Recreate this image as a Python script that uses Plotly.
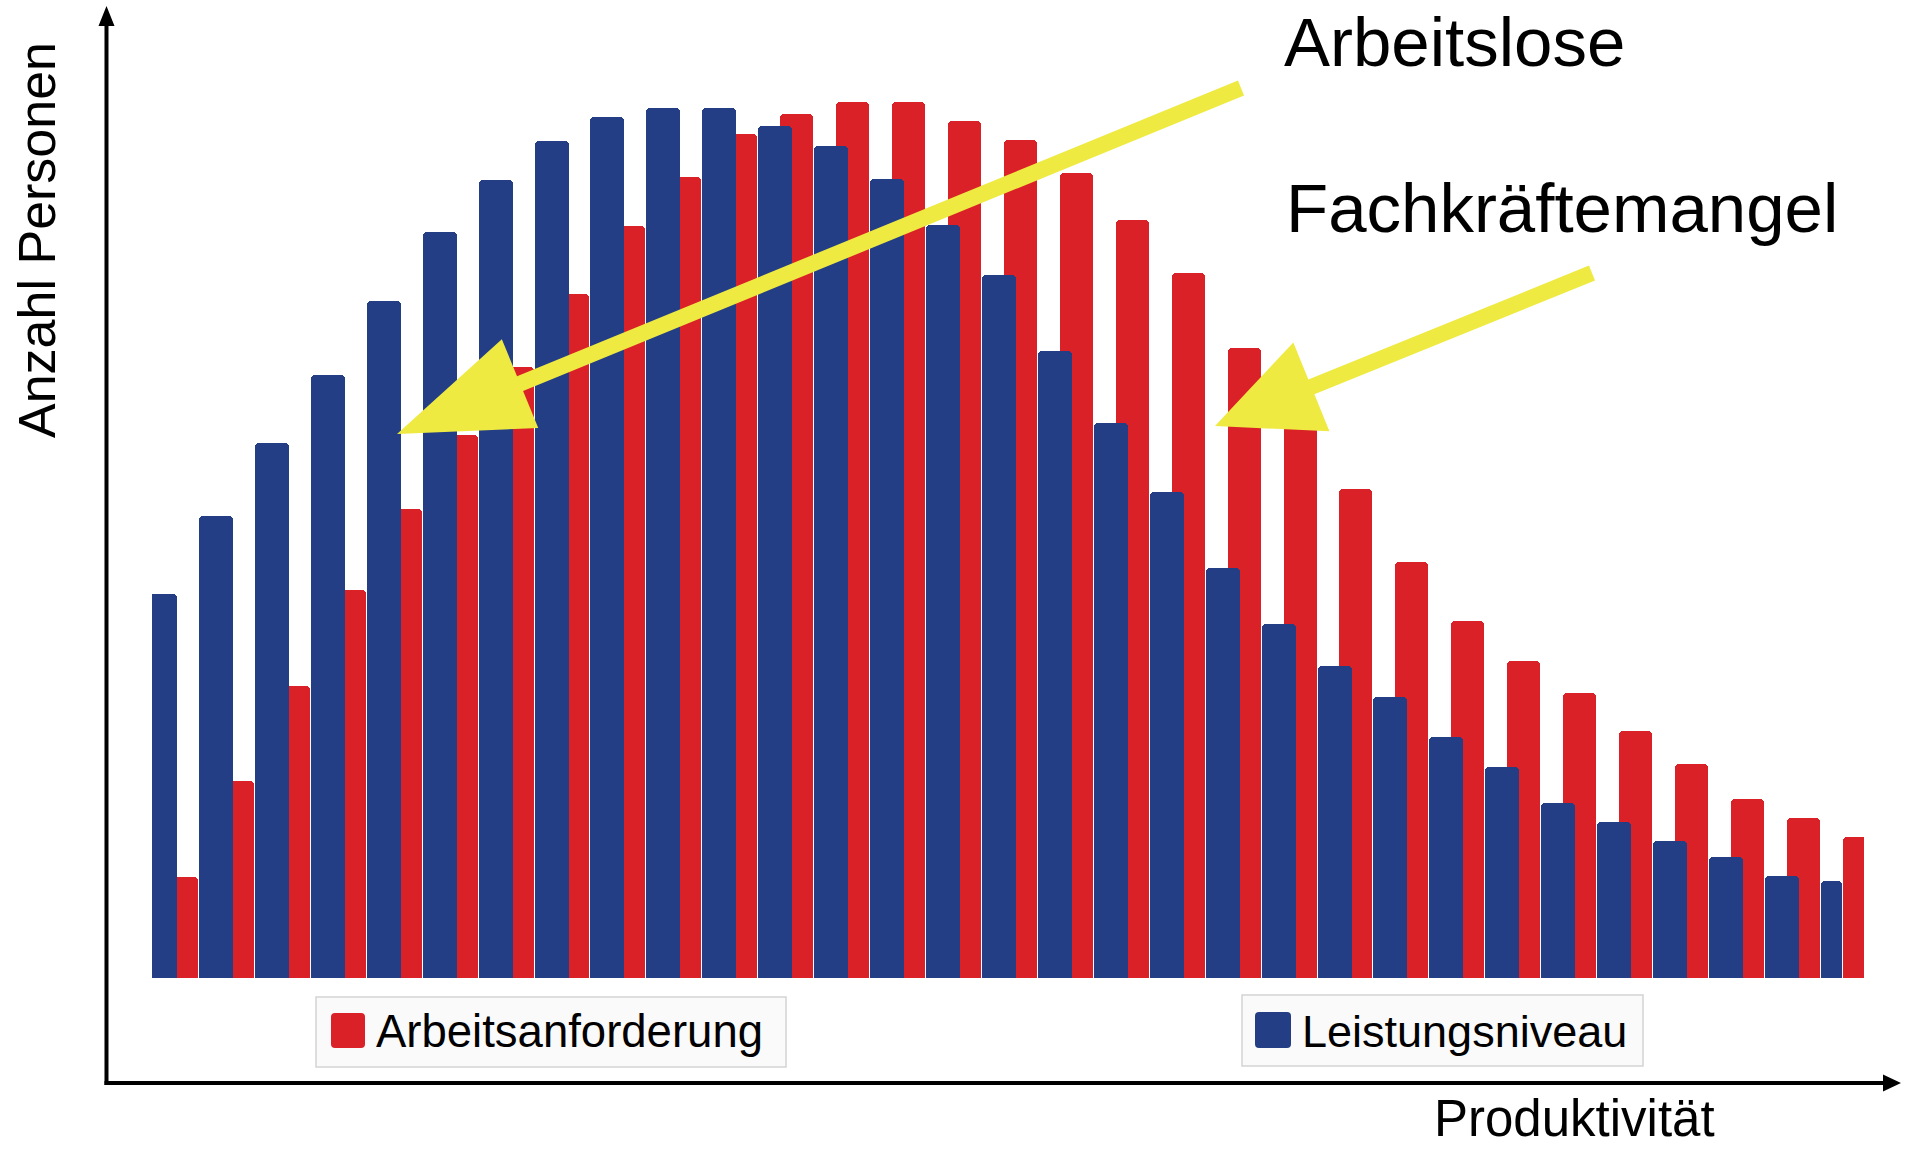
import plotly.graph_objects as go

# Klassen entlang der Produktivitaetsachse
klassen = list(range(1, 32))
# Hoehen der Balken (relative Anzahl Personen, 0..100)
arbeitsanforderung = [10.9, 21.2, 31.5, 41.8, 50.5, 58.5, 65.8, 73.7, 81.0, 86.3,
                      91.0, 93.1, 94.4, 94.4, 92.3, 90.3, 86.8, 81.7, 76.0, 67.9,
                      60.2, 52.7, 44.8, 38.5, 34.2, 30.7, 26.6, 23.1, 19.3, 17.2, 15.2]
leistungsniveau = [41.4, 49.8, 57.7, 65.0, 73.0, 80.4, 86.0, 90.2, 92.8, 93.7,
                   93.7, 91.8, 89.7, 86.1, 81.1, 75.8, 67.6, 59.8, 52.4, 44.2,
                   38.2, 33.6, 30.3, 26.0, 22.7, 18.9, 16.8, 14.8, 13.0, 11.0, 10.5]

RED = "#DA2128"
BLUE = "#233E85"
YELLOW = "#EEEA41"
FONT = "Liberation Sans, Arial, sans-serif"

W, H = 1907, 1150
L, R, T, B = 152, 43, 50, 172
PW, PH = W - L - R, H - T - B


def fx(p):
    return (p - L) / PW


def fy(p):
    return (H - B - p) / PH


def arrow_path(tail, tip, head_len, head_w, shaft_w):
    dx, dy = tip[0] - tail[0], tip[1] - tail[1]
    n = (dx * dx + dy * dy) ** 0.5
    ux, uy = dx / n, dy / n
    nx, ny = -uy, ux
    bx, by = tip[0] - ux * head_len, tip[1] - uy * head_len
    s, h = shaft_w / 2, head_w / 2
    pts = [
        (tail[0] + nx * s, tail[1] + ny * s),
        (bx + nx * s, by + ny * s),
        (bx + nx * h, by + ny * h),
        tip,
        (bx - nx * h, by - ny * h),
        (bx - nx * s, by - ny * s),
        (tail[0] - nx * s, tail[1] - ny * s),
    ]
    return "M" + " L".join(f"{fx(x):.5f},{fy(y):.5f}" for x, y in pts) + " Z"


def rounded_rect(x0, y0, x1, y1, r):
    rx, ry = r / PW, r / PH
    a, b, c, d = fx(x0), fy(y1), fx(x1), fy(y0)
    return (f"M{a + rx},{b} L{c - rx},{b} Q{c},{b} {c},{b + ry} "
            f"L{c},{d - ry} Q{c},{d} {c - rx},{d} L{a + rx},{d} "
            f"Q{a},{d} {a},{d - ry} L{a},{b + ry} Q{a},{b} {a + rx},{b} Z")


drop = 4 / PH * 100  # blaue Balken reichen etwas tiefer

fig = go.Figure()
fig.add_trace(go.Bar(
    x=klassen, y=arbeitsanforderung, name="Arbeitsanforderung",
    marker=dict(color=RED, line=dict(width=0)),
    width=33 / 55.93, offset=0.089, showlegend=False, hoverinfo="skip",
))
fig.add_trace(go.Bar(
    x=klassen, y=[v + drop for v in leistungsniveau], base=-drop,
    name="Leistungsniveau",
    marker=dict(color=BLUE, line=dict(width=0)),
    width=[34 / 55.93] * 30 + [21 / 55.93], offset=-0.304,
    showlegend=False, hoverinfo="skip",
))

shapes = [
    # Achsen mit Pfeilen
    dict(type="path", path=arrow_path((106.5, 1085), (106.5, 6), 20, 16, 4),
         fillcolor="black", line=dict(width=0)),
    dict(type="path", path=arrow_path((104.5, 1083), (1901, 1083), 18, 17, 4),
         fillcolor="black", line=dict(width=0)),
    # gelbe Pfeile
    dict(type="path", path=arrow_path((1241, 88), (397, 434), 133, 96, 16),
         fillcolor=YELLOW, line=dict(width=0)),
    dict(type="path", path=arrow_path((1592, 273), (1215, 426), 104, 96, 16),
         fillcolor=YELLOW, line=dict(width=0)),
    # Legendenkaesten
    dict(type="rect", x0=fx(316), x1=fx(786), y0=fy(1067), y1=fy(997),
         fillcolor="#FAFAFA", line=dict(color="#D4D4D4", width=1.5)),
    dict(type="rect", x0=fx(1242), x1=fx(1643), y0=fy(1066), y1=fy(995),
         fillcolor="#FAFAFA", line=dict(color="#D4D4D4", width=1.5)),
    dict(type="path", path=rounded_rect(331, 1013, 365, 1048, 4),
         fillcolor=RED, line=dict(width=0)),
    dict(type="path", path=rounded_rect(1255, 1012, 1291, 1048, 4),
         fillcolor=BLUE, line=dict(width=0)),
]
for s in shapes:
    s.update(xref="paper", yref="paper", layer="above")


def label(text, x, baseline, size, **kw):
    return dict(text=text, x=fx(x), y=fy(baseline - 0.32 * size), xref="paper",
                yref="paper", xanchor="left", yanchor="middle", showarrow=False,
                font=dict(family=FONT, size=size, color="black"), **kw)


annotations = [
    label("Arbeitslose", 1282, 65, 69),
    label("Fachkräftemangel", 1284, 231, 69),
    label("Produktivität", 1432, 1135, 51),
    label("Arbeitsanforderung", 374, 1046, 45.5),
    label("Leistungsniveau", 1300, 1046, 45),
    dict(text="Anzahl Personen", x=fx(37), y=fy(240), xref="paper", yref="paper",
         xanchor="center", yanchor="middle", textangle=-90, showarrow=False,
         font=dict(family=FONT, size=52, color="black")),
]

fig.update_layout(
    width=W, height=H,
    margin=dict(l=L, r=R, t=T, b=B),
    barmode="overlay", barcornerradius=4, bargap=0,
    paper_bgcolor="white", plot_bgcolor="white",
    xaxis=dict(range=[0.857, 31.467], visible=False, fixedrange=True),
    yaxis=dict(range=[0, 100], visible=False, fixedrange=True),
    shapes=shapes, annotations=annotations,
    showlegend=False,
)

# Seitenrand entfernen, damit die Grafik genau am Fensterrand beginnt
fig.write_html("out.html", config={"displayModeBar": False},
               post_script="document.body.style.margin='0';")
